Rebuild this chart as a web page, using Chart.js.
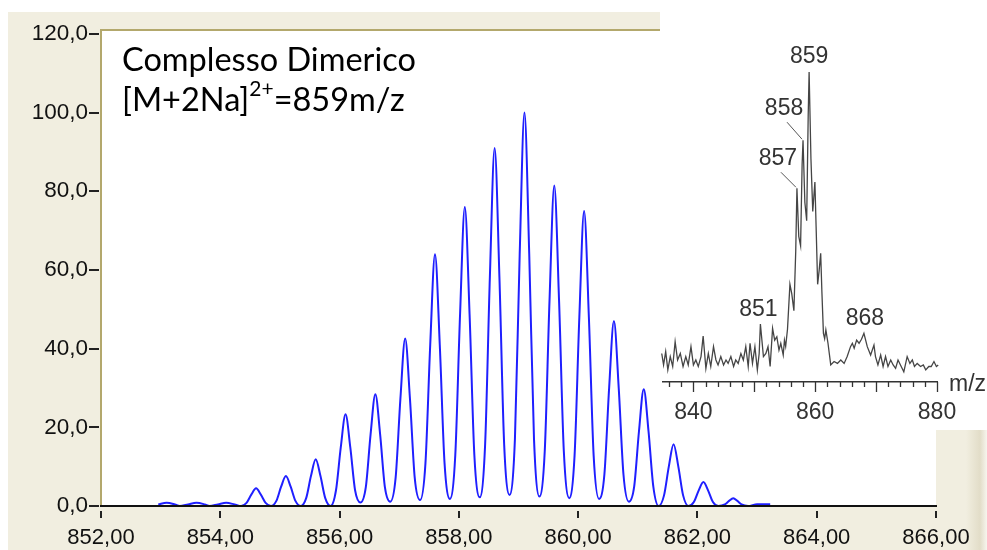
<!DOCTYPE html>
<html lang="it">
<head>
  <meta charset="UTF-8" />
  <title>Complesso Dimerico</title>
  <script src="https://cdn.jsdelivr.net/npm/chart.js@4.4.0/dist/chart.umd.min.js"></script>
  <style>
    body {
      margin: 0;
      width: 987px;
      height: 550px;
      overflow: hidden;
      position: relative;
      background: #fff;
    }
    .panel {
      position: absolute;
      left: 8px;
      top: 12px;
      width: 979px;
      height: 538px;
      background: linear-gradient(to right, #f1eee0 0, #f1eee0 958px, #e2ddc8 972px, #f7f5ee 979px);
    }
    #main { position: absolute; left: 0; top: 0; }
    .inset {
      position: absolute;
      left: 660px;
      top: 0;
      width: 327px;
      height: 430px;
      background: #fff;
    }
    .title {
      position: absolute;
      left: 122px;
      font-family: Lato, "Noto Sans", sans-serif;
      font-size: 32.5px;
      line-height: 38px;
      color: #000;
      white-space: nowrap;
    }
    .title sup { font-size: 21px; vertical-align: 15px; line-height: 0; }
  </style>
</head>
<body>
  <div class="panel"></div>
  <canvas id="main" width="987" height="550"></canvas>
  <div class="title" style="top:40px">Complesso Dimerico</div>
  <div class="title" style="top:80px">[M+2Na]<sup>2+</sup>=859m/z</div>
  <div class="inset"><canvas id="inset" width="327" height="430"></canvas></div>

  <script>
    // --- isotope cluster, one peak per row ---
    const mainMz = [
      852.96, 853.10, 853.24, 853.32,
      853.46, 853.60, 853.74, 853.82,
      853.96, 854.10, 854.24, 854.35,
      854.44, 854.52, 854.60, 854.68, 854.76, 854.85,
      854.94, 855.02, 855.10, 855.18, 855.26, 855.35,
      855.44, 855.52, 855.60, 855.68, 855.76, 855.85,
      855.94, 856.02, 856.10, 856.18, 856.26, 856.35,
      856.44, 856.52, 856.60, 856.68, 856.76, 856.85,
      856.94, 857.02, 857.10, 857.18, 857.26, 857.35,
      857.44, 857.52, 857.60, 857.68, 857.76, 857.85,
      857.94, 858.02, 858.10, 858.18, 858.26, 858.35,
      858.44, 858.52, 858.60, 858.68, 858.76, 858.85,
      858.94, 859.02, 859.10, 859.18, 859.26, 859.35,
      859.44, 859.52, 859.60, 859.68, 859.76, 859.85,
      859.94, 860.02, 860.10, 860.18, 860.26, 860.35,
      860.44, 860.52, 860.60, 860.68, 860.76, 860.85,
      860.94, 861.02, 861.10, 861.18, 861.26, 861.35,
      861.44, 861.52, 861.60, 861.68, 861.76, 861.85,
      861.94, 862.02, 862.10, 862.18, 862.26, 862.35,
      862.46, 862.53, 862.60, 862.67, 862.74, 862.85,
      863.00, 863.22
    ];
    const mainInt = [
      0.4, 0.85, 0.4, 0,
      0.4, 0.8, 0.4, 0,
      0.4, 0.8, 0.4, 0,
      0.8, 2.9, 4.5, 2.9, 0.8, 0,
      1.3, 4.9, 7.6, 4.9, 1.3, 0,
      2.0, 7.6, 11.9, 7.6, 2.0, 0,
      4.0, 14.9, 23.3, 14.9, 4.0, 0.9,
      4.8, 18.2, 28.4, 18.2, 4.8, 1.1,
      7.2, 27.3, 42.6, 27.3, 7.2, 1.5,
      10.9, 41.0, 64.0, 41.0, 10.9, 1.8,
      12.9, 48.6, 76.0, 48.6, 12.9, 2.2,
      15.5, 58.2, 91.0, 58.2, 15.5, 2.8,
      17.0, 64.0, 100.0, 64.0, 17.0, 2.4,
      13.9, 52.2, 81.5, 52.2, 13.9, 2.0,
      12.8, 48.0, 75.0, 48.0, 12.8, 1.8,
      8.0, 30.1, 47.0, 30.1, 8.0, 1.1,
      5.0, 19.0, 29.7, 19.0, 5.0, 0,
      2.7, 10.0, 15.7, 10.0, 2.7, 0,
      1.0, 3.9, 6.1, 3.9, 1.0, 0,
      0.4, 1.3, 2.0, 1.3, 0.4, 0,
      0.45, 0.45
    ];
    const xTicks = [852, 854, 856, 858, 860, 862, 864, 866];
    const yTicks = [0, 20, 40, 60, 80, 100, 120];

    // --- low resolution spectrum shown in the corner ---
    const insetMz = [
      834.8, 835.1, 835.45, 835.8, 836.2, 836.6, 837.0, 837.4, 837.85, 838.3,
      838.75, 839.15, 839.6, 840.0, 840.4, 840.8, 841.25, 841.6, 842.05, 842.45,
      842.85, 843.3, 843.7, 844.05, 844.5, 844.95, 845.35, 845.7, 846.15, 846.6,
      846.95, 847.35, 847.8, 848.2, 848.6, 849.0, 849.3, 849.7, 850.1, 850.5,
      850.8, 851.0, 851.5, 851.9, 852.25, 852.6, 853.0, 853.35, 853.7, 854.05,
      854.35, 854.75, 854.95, 855.15, 855.45, 855.85, 856.15, 856.5, 856.8, 857.0,
      857.3, 857.6, 857.85, 858.0, 858.3, 858.6, 858.85, 859.0, 859.3, 859.6,
      859.95, 860.15, 860.4, 860.65, 860.9, 861.1, 861.35, 861.55, 861.75, 862.1,
      862.55, 863.1, 863.65, 864.2, 864.75, 865.25, 865.8, 866.1, 866.4, 866.8,
      867.2, 867.6, 868.0, 868.55, 869.1, 869.65, 869.9, 870.3, 870.75, 871.15,
      871.55, 871.95, 872.4, 872.8, 873.2, 873.6, 874.0, 874.55, 875.1, 875.55,
      875.95, 876.3, 876.75, 877.3, 877.75, 878.15, 878.65, 879.05, 879.5, 879.9,
      880.2
    ];
    const insetInt = [
      9.2, 5.5, 9.8, 3.9, 8.2, 5.0, 13.0, 7.1, 9.2, 5.0,
      8.2, 5.5, 11.4, 5.5, 7.1, 5.0, 8.2, 14.8, 4.4, 9.2,
      5.0, 11.4, 7.1, 5.5, 8.2, 5.5, 7.1, 6.0, 8.2, 5.0,
      7.1, 6.0, 9.2, 7.1, 11.4, 5.0, 12.5, 6.0, 11.4, 3.9,
      9.2, 18.7, 8.2, 9.2, 11.4, 5.0, 17.3, 13.5, 14.6, 10.3,
      12.5, 8.7, 13.5, 11.5, 17.0, 31.5, 28.5, 23.0, 42.0, 62.5,
      47.0, 44.0, 70.0, 78.0, 58.0, 52.0, 86.0, 100.0, 72.0, 55.0,
      64.5, 50.0, 31.5, 36.0, 41.5, 29.0, 15.7, 14.0, 16.8, 12.5,
      5.5, 6.6, 6.0, 7.1, 6.0, 8.2, 11.4, 12.5, 10.9, 13.5,
      12.5, 13.8, 15.7, 11.4, 8.7, 11.9, 8.2, 5.5, 8.7, 5.0,
      8.2, 5.0, 7.1, 5.5, 4.4, 7.1, 5.5, 3.3, 8.2, 6.0,
      7.1, 5.0, 6.0, 5.0, 5.5, 3.9, 5.0, 5.0, 6.6, 5.0,
      5.5
    ];
    const insetTicks = [836, 838, 840, 842, 844, 846, 848, 850, 852, 854, 856, 858,
                        860, 862, 864, 866, 868, 870, 872, 874, 876, 878, 880];
    const insetMajor = [840, 850, 860, 870, 880];
    const insetLabelled = [840, 860, 880];
    const peakLabels = ['859', '858', '857', '851', '868'];
    const peakMz = [859, 858, 857, 851, 868];

    Chart.defaults.font.family = '"Liberation Sans", Arial, sans-serif';

    const KHAKI = '#b3a86c';

    // white plot area, khaki top edge, outside tick marks
    const mainFrame = {
      id: 'mainFrame',
      beforeDraw(chart) {
        const { ctx, chartArea: a } = chart;
        ctx.save();
        ctx.fillStyle = '#fff';
        ctx.fillRect(a.left, a.top, a.right - a.left, a.bottom - a.top);
        ctx.restore();
      },
      afterDraw(chart) {
        const { ctx, chartArea: a, scales } = chart;
        ctx.save();
        ctx.strokeStyle = KHAKI;
        ctx.lineWidth = 2;
        ctx.beginPath();
        ctx.moveTo(a.left - 1, a.top);
        ctx.lineTo(a.right, a.top);
        ctx.stroke();

        ctx.strokeStyle = '#222';
        ctx.lineWidth = 2;
        ctx.beginPath();
        xTicks.forEach(v => {
          const px = Math.round(scales.x.getPixelForValue(v));
          ctx.moveTo(px, a.bottom + 5);
          ctx.lineTo(px, a.bottom + 12);
        });
        yTicks.forEach(v => {
          const py = Math.round(scales.y.getPixelForValue(v));
          ctx.moveTo(a.left - 12, py);
          ctx.lineTo(a.left - 2, py);
        });
        ctx.stroke();
        ctx.restore();
      }
    };

    new Chart(document.getElementById('main'), {
      type: 'line',
      data: {
        datasets: [{
          data: mainMz.map((x, i) => ({ x, y: mainInt[i] })),
          borderColor: '#1f1fff',
          borderWidth: 2,
          pointRadius: 0,
          cubicInterpolationMode: 'monotone',
          clip: 4
        }]
      },
      options: {
        responsive: false,
        animation: false,
        layout: { padding: { left: 0, top: 30, right: 51, bottom: 0 } },
        plugins: { legend: { display: false }, tooltip: { enabled: false } },
        scales: {
          x: {
            type: 'linear',
            min: 852,
            max: 866,
            afterBuildTicks: s => { s.ticks = xTicks.map(v => ({ value: v })); },
            afterFit: s => { s.height = 44; },
            grid: { display: false },
            border: { color: '#111', width: 2, z: 1 },
            ticks: {
              padding: 11,
              color: '#111',
              autoSkip: false,
              maxRotation: 0,
              font: { size: 22 },
              callback: v => v.toFixed(2).replace('.', ',')
            }
          },
          y: {
            min: 0,
            max: 121,
            afterBuildTicks: s => { s.ticks = yTicks.map(v => ({ value: v })); },
            afterFit: s => { s.width = 101; },
            grid: { display: false },
            border: { color: KHAKI, width: 2 },
            ticks: {
              padding: 5,
              color: '#111',
              font: { size: 22.5 },
              callback: v => v.toFixed(1).replace('.', ',')
            }
          }
        }
      },
      plugins: [mainFrame]
    });

    // inset: tick marks, unit label, peak labels with leaders
    const insetDecor = {
      id: 'insetDecor',
      afterDraw(chart) {
        const { ctx, chartArea: a, scales } = chart;
        const x = scales.x, y = scales.y;
        ctx.save();
        ctx.strokeStyle = '#333';
        ctx.lineWidth = 1.3;
        ctx.beginPath();
        insetTicks.forEach(v => {
          const px = Math.round(x.getPixelForValue(v)) + 0.5;
          ctx.moveTo(px, a.bottom);
          ctx.lineTo(px, a.bottom + (insetMajor.includes(v) ? 10 : 5));
        });
        ctx.stroke();

        ctx.fillStyle = '#333';
        ctx.font = '23px "Liberation Sans", Arial, sans-serif';
        ctx.textAlign = 'left';
        ctx.textBaseline = 'alphabetic';
        ctx.fillText('m/z', a.right + 12, a.bottom + 9);

        const offsets = [[0, -15], [-19, -32], [-19, -30], [-2, -14], [1, -15]];
        const leaders = [null, [-16, -18], [-16, -16], null, null];
        ctx.font = '23px "Liberation Sans", Arial, sans-serif';
        ctx.textAlign = 'center';
        ctx.textBaseline = 'middle';
        peakLabels.forEach((txt, i) => {
          const idx = insetMz.indexOf(peakMz[i]);
          const px = x.getPixelForValue(peakMz[i]);
          const py = y.getPixelForValue(insetInt[idx]);
          ctx.fillText(txt, px + offsets[i][0], py + offsets[i][1]);
          if (leaders[i]) {
            ctx.strokeStyle = '#555';
            ctx.lineWidth = 1;
            ctx.beginPath();
            ctx.moveTo(px + leaders[i][0], py + leaders[i][1]);
            ctx.lineTo(px - 1, py - 1);
            ctx.stroke();
          }
        });
        ctx.restore();
      }
    };

    new Chart(document.getElementById('inset'), {
      type: 'line',
      data: {
        datasets: [{
          data: insetMz.map((x, i) => ({ x, y: insetInt[i] })),
          borderColor: '#454545',
          borderWidth: 1.3,
          pointRadius: 0,
          tension: 0,
          clip: false
        }]
      },
      options: {
        responsive: false,
        animation: false,
        layout: { padding: { left: 2, top: 72, right: 50, bottom: 0 } },
        plugins: { legend: { display: false }, tooltip: { enabled: false } },
        scales: {
          x: {
            type: 'linear',
            min: 835,
            max: 880,
            afterBuildTicks: s => { s.ticks = insetTicks.map(v => ({ value: v })); },
            afterFit: s => { s.height = 48; },
            grid: { display: false },
            border: { color: '#333', width: 1.5 },
            ticks: {
              padding: 9,
              color: '#333',
              autoSkip: false,
              maxRotation: 0,
              font: { size: 23 },
              callback: v => insetLabelled.includes(v) ? String(v) : ''
            }
          },
          y: { display: false, min: 0, max: 100 }
        }
      },
      plugins: [insetDecor]
    });
  </script>
</body>
</html>
